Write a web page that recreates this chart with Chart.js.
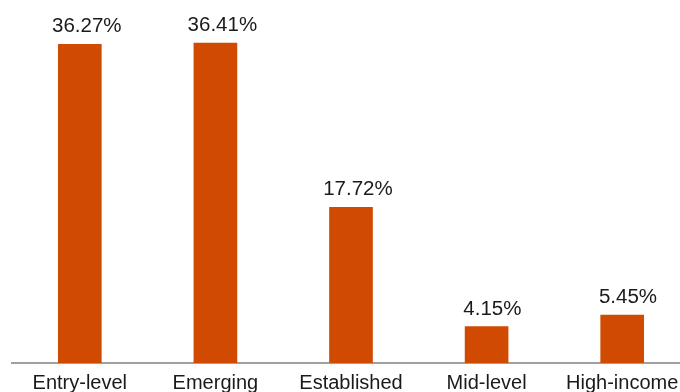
<!DOCTYPE html>
<html>
<head>
<meta charset="utf-8">
<script src="https://cdn.jsdelivr.net/npm/chart.js@4/dist/chart.umd.min.js"></script>
<style>
  html, body { margin: 0; padding: 0; background: #fff; overflow: hidden; }
  #wrap { width: 690px; height: 392px; }
</style>
</head>
<body>
<div id="wrap"><canvas id="incomeChart" width="690" height="392"></canvas></div>
<script>
// categories and shares (%)
const categories = ['Entry-level', 'Emerging', 'Established', 'Mid-level', 'High-income'];
const shares = [36.27, 36.41, 17.72, 4.15, 5.45];

const BAR_COLOR = '#d04a02';
const FONT = '"Liberation Sans", Arial, Helvetica, sans-serif';

// value labels above each bar (sit slightly right of centre, like the original)
const valueLabels = {
    id: 'valueLabels',
    afterDatasetsDraw(chart) {
        const ctx = chart.ctx;
        const meta = chart.getDatasetMeta(0);
        ctx.save();
        ctx.font = '20.5px ' + FONT;
        ctx.fillStyle = '#1a1a1a';
        ctx.textAlign = 'center';
        ctx.textBaseline = 'alphabetic';
        meta.data.forEach((bar, i) => {
            const txt = shares[i].toFixed(2) + '%';
            const w = ctx.measureText(txt).width;
            ctx.fillText(txt, bar.x + w * 0.1, bar.y - 12);
        });
        ctx.restore();
    }
};

new Chart(document.getElementById('incomeChart'), {
    type: 'bar',
    data: {
        labels: categories,
        datasets: [{
            data: shares,
            backgroundColor: BAR_COLOR,
            barThickness: 43,
            borderWidth: 0
        }]
    },
    options: {
        responsive: false,
        animation: false,
        layout: { padding: { left: 12, right: 0, top: 0, bottom: 0 } },
        scales: {
            x: {
                grid: { display: false, drawTicks: false },
                border: { display: true, color: '#a0a0a0', width: 2 },
                ticks: { color: '#1a1a1a', font: { family: FONT, size: 20 }, padding: 8, maxRotation: 0, autoSkip: false },
                afterFit(scale) { scale.height = 29; }
            },
            y: {
                display: false,
                min: 0,
                max: 41.3
            }
        },
        plugins: {
            legend: { display: false },
            tooltip: { enabled: false }
        }
    },
    plugins: [valueLabels]
});
</script>
</body>
</html>
